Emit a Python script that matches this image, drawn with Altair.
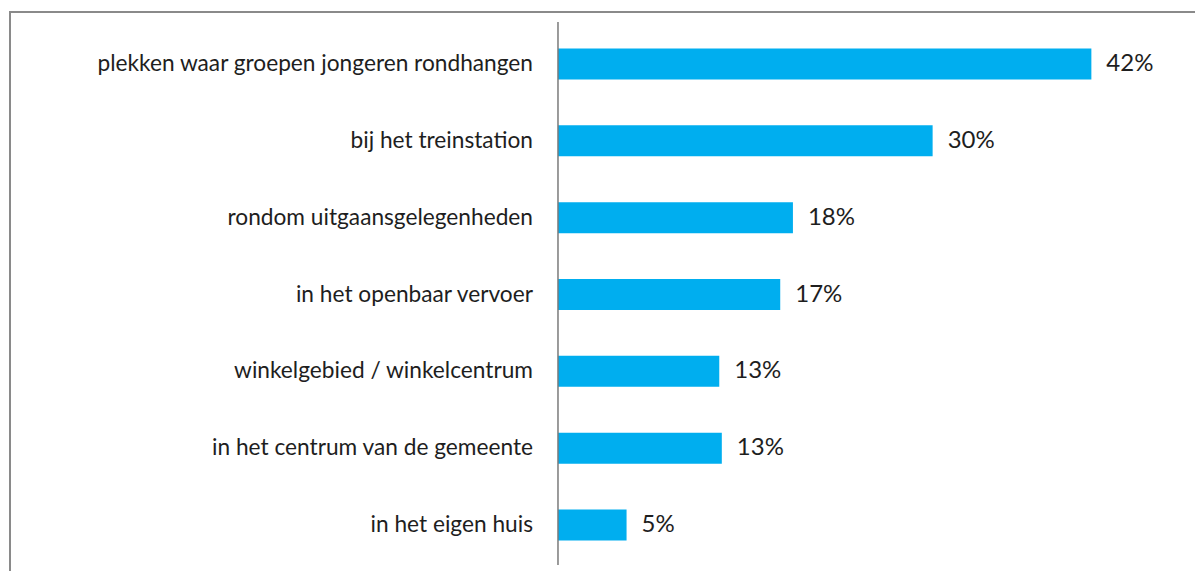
import altair as alt
import pandas as pd

categories = [
    "plekken waar groepen jongeren rondhangen",
    "bij het treinstation",
    "rondom uitgaansgelegenheden",
    "in het openbaar vervoer",
    "winkelgebied / winkelcentrum",
    "in het centrum van de gemeente",
    "in het eigen huis",
]
values = [42.0, 29.5, 18.5, 17.5, 12.7, 12.9, 5.4]
value_labels = ["42%", "30%", "18%", "17%", "13%", "13%", "5%"]

df = pd.DataFrame({"cat": categories, "val": values, "lab": value_labels})

FONT = "Lato"
TXT = "#1e1e1e"
BAR = "#00AEEF"

W = 1185
xscale = alt.Scale(domain=[-43.15, 50.16], nice=False, zero=False)
yscale = alt.Scale(domain=categories, paddingInner=0.596, paddingOuter=0.475)

base = alt.Chart(df)

frame = base.mark_rect(fill="white", stroke="#8a8a8a", strokeWidth=2).encode(
    x=alt.value(0), x2=alt.value(1400), y=alt.value(0), y2=alt.value(900)
).transform_filter("datum.lab == '42%'")

bars = base.mark_bar(color=BAR).encode(
    x=alt.X("val:Q", scale=xscale, axis=None),
    x2=alt.datum(0),
    y=alt.Y("cat:N", scale=yscale, axis=None, sort=categories),
)

cat_text = base.mark_text(align="right", baseline="middle", dx=-25, font=FONT,
                          fontSize=22.7, color=TXT).encode(
    x=alt.X("zero:Q", scale=xscale, axis=None),
    y=alt.Y("cat:N", scale=yscale, axis=None, sort=categories),
    text="cat:N",
).transform_calculate(zero="0")

val_text = base.mark_text(align="left", baseline="middle", dx=15, font=FONT,
                          fontSize=24, color=TXT).encode(
    x=alt.X("val:Q", scale=xscale, axis=None),
    y=alt.Y("cat:N", scale=yscale, axis=None, sort=categories),
    text="lab:N",
)

axis_line = base.mark_rule(color="#7a7a7a", strokeWidth=1.5).encode(
    x=alt.X("zero:Q", scale=xscale, axis=None),
    y=alt.value(10),
    y2=alt.value(553),
).transform_calculate(zero="0").transform_filter("datum.lab == '42%'")

chart = alt.layer(frame, bars, axis_line, cat_text, val_text).properties(
    width=W,
    height=565,
    padding={"left": 2, "top": 4, "right": 0, "bottom": 0},
    autosize=alt.AutoSizeParams(type="none"),
    background="white",
).configure_view(stroke=None)

chart.save("out.html", embed_options={"renderer": "svg", "actions": False})
